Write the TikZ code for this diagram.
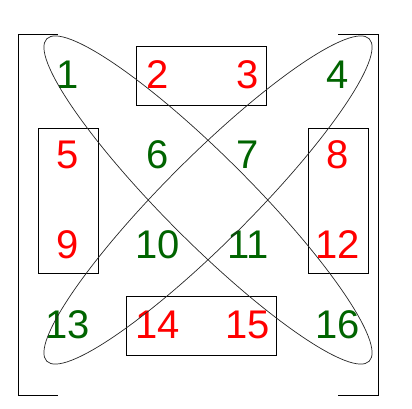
\documentclass[tikz,border=0pt]{standalone}
\usepackage{fontspec}
\setmainfont{Liberation Sans}
\definecolor{numgreen}{RGB}{0,100,0}
\definecolor{numred}{RGB}{255,0,0}
\tikzset{
  gnum/.style={text=numgreen,font=\fontsize{40}{40}\selectfont,inner sep=0pt},
  rnum/.style={text=numred,font=\fontsize{40}{40}\selectfont,inner sep=0pt}
}
\begin{document}
\begin{tikzpicture}[x=1pt,y=-1pt]
    \useasboundingbox (0,0) rectangle (412,409);
    % matrix brackets
    \draw[line width=1pt] (58,35) -- (18,35) -- (18,395) -- (58,395);
    \draw[line width=1pt] (338,35) -- (378,35) -- (378,395) -- (338,395);
    % entries
    \node[gnum] (n1) at (68,75) {1};
    \node[rnum] (n2) at (158,75) {2};
    \node[rnum] (n3) at (248,75) {3};
    \node[gnum] (n4) at (338,75) {4};
    \node[rnum] (n5) at (68,155) {5};
    \node[gnum] (n6) at (158,155) {6};
    \node[gnum] (n7) at (248,155) {7};
    \node[rnum] (n8) at (338,155) {8};
    \node[rnum] (n9) at (68,245) {9};
    \node[gnum] (n10) at (158,245) {10};
    \node[gnum] (n11) at (248,245) {11};
    \node[rnum] (n12) at (338,245) {12};
    \node[gnum] (n13) at (68,325) {13};
    \node[rnum] (n14) at (158,325) {14};
    \node[rnum] (n15) at (248,325) {15};
    \node[gnum] (n16) at (338,325) {16};
    % boxes
    \draw[line width=0.9pt] (136,46) rectangle (266,105);
    \draw[line width=0.9pt] (38,128) rectangle (98,273);
    \draw[line width=0.9pt] (308,128) rectangle (368,273);
    \draw[line width=0.9pt] (126,296) rectangle (276,355);
    % diagonals
    \draw[line width=0.7pt,black!85,rotate around={-45:(208,200)}] (208,200) ellipse (228 and 43);
    \draw[line width=0.7pt,black!85,rotate around={45:(208,200)}] (208,200) ellipse (228 and 43);
  \end{tikzpicture}
\end{document}
